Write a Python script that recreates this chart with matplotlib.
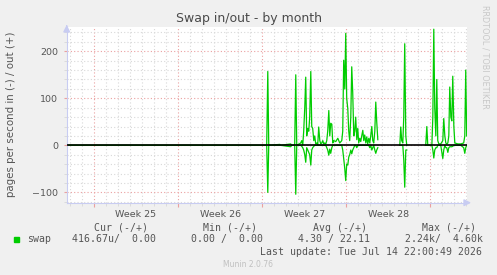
import numpy as np
import matplotlib
matplotlib.use("Agg")
import matplotlib.pyplot as plt

# swap in/out, pages per second, sampled over the month (x in days from left edge)
nan = np.nan
days = [0.0, 16.65, 16.74, 16.82, 17.74, 17.82, 18.65, 18.73, 18.98, 19.07,
        19.15, 19.48, 19.57, 19.65, 19.73, 19.82, 19.90, 19.98, 20.07, 20.15,
        20.23, 20.32, 20.40, 20.48, 20.57, 20.65, 20.73, 20.82, 20.90, 20.98,
        21.07, 21.15, 21.23, 21.32, 21.40, 21.48, 21.57, 21.65, 21.73, 21.82,
        21.90, 21.98, 22.07, 22.15, 22.23, 22.40, 22.57, 22.73, 22.90, 22.98,
        23.06, 23.15, 23.23, 23.31, 23.40, 23.48, 23.56, 23.65, 23.73, 23.81,
        23.90, 23.98, 24.06, 24.15, 24.23, 24.31, 24.40, 24.48, 24.56, 24.65,
        24.73, 24.81, 24.90, 24.98, 25.06, 25.15, 25.23, 25.31, 25.40, 25.48,
        25.56, 25.65, 25.73, 25.81, 25.90, 25.98,
        27.73, 27.81, 27.89, 27.98, 28.06, 28.14, 28.23, 28.31, 28.39,
        29.89, 29.98, 30.06, 30.40, 30.48, 30.56, 30.64, 30.73, 30.81, 30.89,
        30.98, 31.14, 31.31, 31.39, 31.48, 31.56, 31.64, 31.73, 31.81, 31.89,
        31.98, 32.06, 32.14, 32.23, 32.31, 32.56, 32.81, 33.05, 33.14, 33.22,
        33.30]
swap_out = [0, 0, 157, 0, 2, 0, 3, 0, 0, 150,
            0, 5, 10, 0, 30, 81, 145, 20, 36, 30,
            60, 157, 40, 36, 10, 20, 3, 5, 2, 39,
            10, 3, 5, 10, 3, 5, 3, 10, 30, 74,
            20, 47, 45, 5, 10, 8, 15, 5, 10, 30,
            181, 120, 238, 100, 78, 30, 10, 60, 167, 113,
            20, 30, 60, 12, 36, 5, 15, 8, 20, 32,
            10, 22, 5, 18, 3, 15, 5, 20, 40, 10,
            5, 30, 92, 50, 12, nan,
            0, 39, 10, 5, 60, 216, 20, 0, nan,
            0, 40, 0, 0, 60, 247, 80, 20, 140, 10,
            3, 3, 10, 57, 20, 5, 3, 5, 20, 124,
            60, 52, 147, 40, 5, 3, 3, 5, 20, 160,
            20]
swap_in = [0, 0, 100, 0, 0, 0, 3, 0, 0, 104,
           0, 0, 2, 5, 10, 20, 36, 5, 10, 15,
           20, 42, 10, 5, 2, 0, 0, 0, 0, 0,
           0, 0, 0, 0, 0, 0, 0, 5, 10, 21,
           8, 17, 5, 0, 0, 0, 0, 0, 0, 10,
           28, 50, 75, 40, 42, 25, 20, 10, 18, 10,
           5, 0, 0, 5, 0, 0, 0, 0, 0, 0,
           0, 0, 0, 0, 0, 0, 5, 0, 10, 5,
           0, 10, 17, 10, 5, nan,
           0, 0, 0, 0, 30, 89, 10, 10, nan,
           0, 0, 0, 0, 10, 27, 10, 5, 5, 0,
           0, 0, 28, 10, 0, 5, 5, 15, 5, 3,
           3, 3, 2, 0, 0, 0, 0, 5, 17, 5,
           0]

week_starts = [2.27, 9.27, 16.27, 23.27, 30.27]
week_labels = ["Week 25", "Week 26", "Week 27", "Week 28"]

legend_head = ["Cur (-/+)", "Min (-/+)", "Avg (-/+)", "Max (-/+)"]
legend_vals = ["416.67u/  0.00", "0.00 /  0.00", "4.30 / 22.11", "2.24k/  4.60k"]

W, H = 497, 275
bg = "#f0f0f0"
green = "#00cc00"
txt = "#555555"
axc = "#c8ccf2"

fig = plt.figure(figsize=(W / 100, H / 100), dpi=100, facecolor=bg)
ax = fig.add_axes([66.7 / W, 1 - 202.7 / H, 400 / W, 175.4 / H])
ax.set_facecolor("white")

ax.set_xlim(0, 33.3)
ax.set_ylim(-122, 251)

# grid: minor every day / 20 units, major every week / 100 units
ax.set_xticks(week_starts)
ax.set_xticks(np.arange(0.27, 33.3, 1.0), minor=True)
ax.set_yticks([-100, 0, 100, 200])
ax.set_yticks(np.arange(-120, 251, 20), minor=True)
ax.set_xticklabels([])
ax.grid(which="minor", color="#d8d8d8", linestyle=(0, (1, 2)), linewidth=0.8)
ax.grid(which="major", color="#eaa0a0", linestyle=(0, (1, 2)), linewidth=0.8)
ax.set_axisbelow(True)
ax.tick_params(which="major", axis="x", length=3, color="#eaa0a0")
ax.tick_params(which="minor", axis="x", length=2, color="#d8d8d8")
ax.tick_params(which="major", axis="y", length=2, color="#eaa0a0",
               labelsize=6.8, labelcolor=txt, pad=4)
ax.tick_params(which="minor", axis="y", length=2, color="#d8d8d8")

for s in ["top", "right"]:
    ax.spines[s].set_visible(False)
ax.spines["left"].set_color(axc)
ax.spines["bottom"].set_color(axc)

ax.plot(days, swap_out, color=green, lw=0.9, zorder=2)
ax.plot(days, -np.array(swap_in), color=green, lw=0.9, zorder=2)
ax.axhline(0, color="black", lw=1.2, zorder=3)

# axis arrows
ax.annotate("", xy=(0, 1.03), xytext=(0, 0.99), xycoords="axes fraction",
            arrowprops=dict(arrowstyle="-|>,head_length=0.4,head_width=0.2",
                            color=axc, lw=1), annotation_clip=False)
ax.annotate("", xy=(1.018, 0), xytext=(0.99, 0), xycoords="axes fraction",
            arrowprops=dict(arrowstyle="-|>,head_length=0.4,head_width=0.2",
                            color=axc, lw=1), annotation_clip=False)

for i, lab in enumerate(week_labels):
    mid = (week_starts[i] + week_starts[i + 1]) / 2
    ax.text(mid, -0.07, lab, transform=ax.get_xaxis_transform(), ha="center",
            va="center", fontsize=6.8, color=txt)

fig.text(248.5 / W, 1 - 18.5 / H, "Swap in/out - by month", ha="center",
         va="center", fontsize=9, color="#4a4a4a")
fig.text(11 / W, 1 - 114 / H, "pages per second in (-) / out (+)",
         rotation=90, ha="center", va="center", fontsize=7.4, color=txt)
fig.text(485 / W, 1 - 5 / H, "RRDTOOL / TOBI OETIKER", rotation=270,
         ha="center", va="top", fontsize=5.9, color="#c8c8c8")

mono = "DejaVu Sans Mono"
head_x = [120.5, 230.3, 340, 449.3]
for x, h in zip(head_x, legend_head):
    fig.text(x / W, 1 - 227.7 / H, h, ha="center", va="center",
             family=mono, fontsize=7.1, color=txt)
fig.patches.append(plt.Rectangle((14 / W, 1 - 241.7 / H), 4.7 / W, 4.7 / H,
                                 transform=fig.transFigure, color=green))
fig.text(26.7 / W, 1 - 239.3 / H, "swap", ha="left", va="center",
         family=mono, fontsize=7.1, color=txt)
val_right = [156, 263.3, 370, 483.3]
for x, v in zip(val_right, legend_vals):
    fig.text(x / W, 1 - 239.3 / H, v, ha="right", va="center",
             family=mono, fontsize=7.1, color=txt)
fig.text(482.5 / W, 1 - 251.7 / H, "Last update: Tue Jul 14 22:00:49 2026",
         ha="right", va="center", family=mono, fontsize=7.1, color=txt)
fig.text(248 / W, 1 - 264.3 / H, "Munin 2.0.76", ha="center", va="center",
         fontsize=5.5, color="#c0c0c0")

fig.savefig("out.png", dpi=100, facecolor=bg)
